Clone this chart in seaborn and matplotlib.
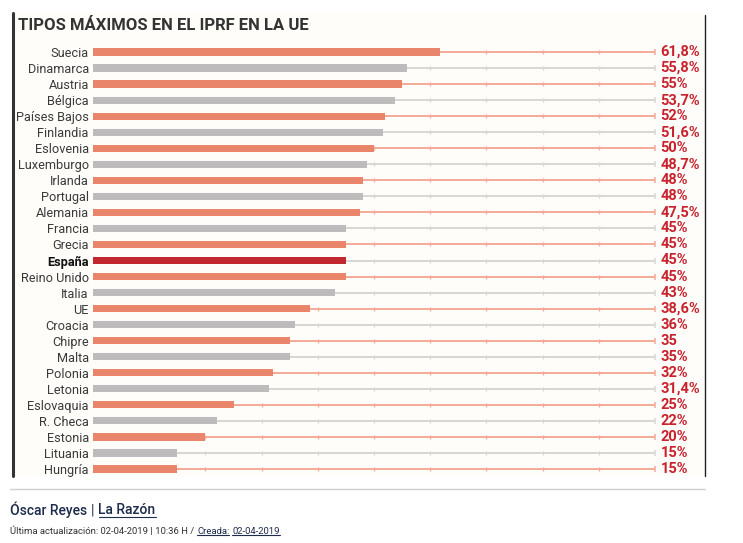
import numpy as np
import pandas as pd
import seaborn as sns
import matplotlib.pyplot as plt
from matplotlib.lines import Line2D
from matplotlib.patches import Rectangle

sns.set_style('white')
plt.rcParams['font.family'] = ['Roboto', 'DejaVu Sans']

countries = ['Suecia', 'Dinamarca', 'Austria', 'Bélgica', 'Países Bajos', 'Finlandia',
             'Eslovenia', 'Luxemburgo', 'Irlanda', 'Portugal', 'Alemania', 'Francia',
             'Grecia', 'España', 'Reino Unido', 'Italia', 'UE', 'Croacia', 'Chipre',
             'Malta', 'Polonia', 'Letonia', 'Eslovaquia', 'R. Checa', 'Estonia',
             'Lituania', 'Hungría']
values = [61.8, 55.8, 55, 53.7, 52, 51.6, 50, 48.7, 48, 48, 47.5, 45, 45, 45, 45,
          43, 38.6, 36, 35, 35, 32, 31.4, 25, 22, 20, 15, 15]
value_labels = ['61,8%', '55,8%', '55%', '53,7%', '52%', '51,6%', '50%', '48,7%',
                '48%', '48%', '47,5%', '45%', '45%', '45%', '45%', '43%', '38,6%',
                '36%', '35', '35%', '32%', '31,4%', '25%', '22%', '20%', '15%', '15%']
groups = ['naranja' if i % 2 == 0 else 'gris' for i in range(len(countries))]
groups[countries.index('España')] = 'espana'

palette = {'naranja': '#E8856A', 'gris': '#BDBBBB', 'espana': '#C1272D'}
line_colors = {'naranja': '#F4A997', 'gris': '#D8D6D5', 'espana': '#D8D6D5'}

df = pd.DataFrame({'pais': countries, 'tipo': values, 'grupo': groups})

W, H = 743, 543
fig = plt.figure(figsize=(W / 100, H / 100), dpi=100)
fig.patch.set_facecolor('white')

# fondo del gráfico y marco
fig.patches.append(Rectangle((13 / W, 1 - 476 / H), (705 - 13) / W, (476 - 12) / H,
                             transform=fig.transFigure, facecolor='#FEFDF9',
                             edgecolor='none', zorder=-5))
fig.add_artist(Line2D([13 / W, 13 / W], [1 - 476 / H, 1 - 13 / H], color='#333333', lw=2.2))
fig.add_artist(Line2D([705 / W, 705 / W], [1 - 476 / H, 1 - 15 / H], color='#222222', lw=1))

fig.text(18 / W, 1 - 25 / H, 'TIPOS MÁXIMOS EN EL IPRF EN LA UE', fontsize=12,
         fontweight='bold', color='#333333', va='center', ha='left')

ax = fig.add_axes([93 / W, 66 / H, 562 / W, 433 / H])
ax.set_facecolor('none')

sns.barplot(data=df, x='tipo', y='pais', hue='grupo', palette=palette, dodge=False,
            saturation=1, width=0.45, linewidth=0, legend=False, ax=ax, zorder=3)

ticks = list(range(10, 100, 10))
for i, (v, g) in enumerate(zip(values, groups)):
    lc = line_colors[g]
    ax.hlines(i, v, 100, color=lc, lw=1.4, zorder=1)
    ax.plot(ticks, [i] * len(ticks), ls='none', marker='|', ms=3, mew=0.9, color=lc, zorder=1)
    ax.plot([100], [i], ls='none', marker='|', ms=4.5, mew=1.1, color=lc, zorder=1)
    ax.text(101, i, value_labels[i], ha='left', va='center', fontsize=10.5,
            fontweight='bold', color='#C8222D')

ax.set_xlim(0, 100)
ax.set_ylim(len(countries) - 0.5, -0.5)
ax.set_xticks([])
ax.set_xlabel('')
ax.set_ylabel('')
ax.tick_params(axis='y', length=0, pad=3, labelsize=9.2, labelcolor='#3a3a3a')
for lab in ax.get_yticklabels():
    if lab.get_text() == 'España':
        lab.set_fontweight('bold')
        lab.set_color('#111111')
sns.despine(ax=ax, left=True, bottom=True)

# pie
fig.add_artist(Line2D([10 / W, 705 / W], [1 - 489 / H, 1 - 489 / H], color='#d0d0d0', lw=1))
navy = '#1d2b4c'
t1 = fig.text(10 / W, 1 - 510 / H, 'Óscar Reyes', fontsize=10, fontweight='medium',
              color=navy, va='center')
t2 = fig.text(0, 0, '|', fontsize=10, color=navy, va='center')
t3 = fig.text(0, 0, 'La Razón', fontsize=10, fontweight='medium', color=navy, va='center')
d1 = fig.text(10 / W, 1 - 531 / H, 'Última actualización: 02-04-2019 | 10:36 H /', fontsize=6.8,
              color='#333333', va='center')
d2 = fig.text(0, 0, 'Creada:', fontsize=6.8, color=navy, va='center')
d3 = fig.text(0, 0, '02-04-2019', fontsize=6.8, color=navy, va='center')

fig.canvas.draw()
r = fig.canvas.get_renderer()


def place_after(prev, txt, gap):
    bb = prev.get_window_extent(r)
    txt.set_position(((bb.x1 + gap) / W, prev.get_position()[1]))


def underline(txt):
    bb = txt.get_window_extent(r)
    fig.add_artist(Line2D([bb.x0 / W, bb.x1 / W], [(bb.y0 + 0.5) / H] * 2, color=txt.get_color(), lw=0.8))


place_after(t1, t2, 4)
place_after(t2, t3, 4)
place_after(d1, d2, 3)
place_after(d2, d3, 3)
fig.canvas.draw()
underline(t3)
underline(d2)
underline(d3)

fig.savefig('out.png', dpi=100)
